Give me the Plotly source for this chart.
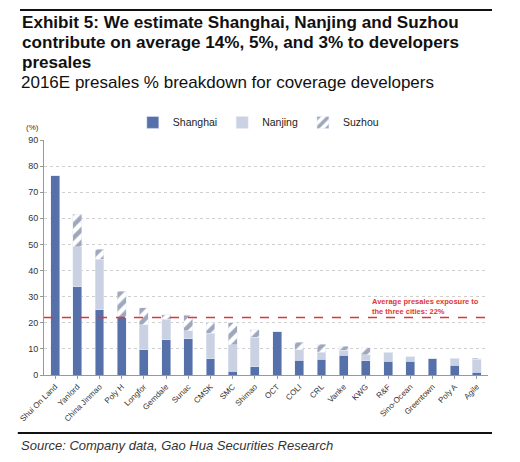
import plotly.graph_objects as go

# data
developers = ["Shui On Land", "Yanlord", "China Jinmao", "Poly H", "Longfor", "Gemdale",
              "Sunac", "CMSK", "SMC", "Shimao", "OCT", "COLI", "CRL", "Vanke", "KWG",
              "R&F", "Sino-Ocean", "Greentown", "Poly A", "Agile"]
shanghai = [76.3, 33.8, 24.9, 22.0, 9.6, 13.5, 13.8, 6.3, 1.5, 3.2,
            16.5, 5.7, 6.0, 7.5, 5.4, 5.3, 5.3, 6.4, 3.8, 1.0]
nanjing = [0, 15.4, 19.4, 0, 9.6, 7.9, 3.1, 9.7, 10.0, 11.2,
           0, 3.9, 2.8, 2.0, 2.3, 3.5, 1.6, 0, 2.6, 5.0]
suzhou = [0, 12.4, 3.8, 10.0, 6.5, 1.6, 5.9, 4.0, 8.5, 3.0,
          0, 3.0, 3.0, 1.5, 2.8, 0, 0, 0, 0, 0.4]
avg_exposure = 22
y_ticks = [0, 10, 20, 30, 40, 50, 60, 70, 80, 90]
title_lines = ["Exhibit 5: We estimate Shanghai, Nanjing and Suzhou",
               "contribute on average 14%, 5%, and 3% to developers",
               "presales"]

FONT = "Liberation Sans, Arial, sans-serif"

fig = go.Figure()
fig.add_bar(x=developers, y=shanghai, name="Shanghai", marker_color="#5670aa")
fig.add_bar(x=developers, y=nanjing, name="Nanjing", marker_color="#c9d1e3")
fig.add_bar(
    x=developers, y=suzhou, name="Suzhou",
    marker=dict(color="white",
                pattern=dict(shape="/", fgcolor="#3e4f78", bgcolor="white",
                             size=9, solidity=0.5))
)

# average line
fig.add_hline(y=avg_exposure, line_color="#e03535", line_dash="dash", line_width=1.6)

fig.update_layout(
    width=520,
    height=462,
    barmode="stack",
    bargap=0.6,
    margin=dict(l=44, r=32, t=140, b=87),
    paper_bgcolor="white",
    plot_bgcolor="white",
    font=dict(family=FONT, color="#333333", size=9),
    showlegend=True,
    legend=dict(orientation="h", x=0.2, y=1.075, xanchor="left", yanchor="middle",
                traceorder="normal",
                font=dict(size=10.5, color="#222222"), itemwidth=30,
                bgcolor="rgba(0,0,0,0)"),
)

# 축 설정
fig.update_yaxes(
    range=[0, 90],
    tickvals=y_ticks,
    showgrid=True,
    gridcolor="#cfcfcf",
    griddash="dot",
    showline=True,
    linecolor="#999999",
    ticks="outside",
    ticklen=3,
    tickcolor="#999999",
    tickfont=dict(size=9, color="#333333"),
    zeroline=False,
)
fig.update_xaxes(
    showline=True,
    linecolor="#999999",
    tickangle=-45,
    tickfont=dict(size=8, color="#333333"),
    ticks="outside",
    ticklen=3,
    tickcolor="#999999",
)

# title (one annotation per line), subtitle, notes
for line, ypos in zip(title_lines, [1.502, 1.413, 1.328]):
    fig.add_annotation(
        xref="paper", yref="paper", x=-0.054, y=ypos, xanchor="left", yanchor="middle",
        text="<b>" + line + "</b>", showarrow=False,
        font=dict(size=17.1, color="#111111", family=FONT),
    )
fig.add_annotation(
    xref="paper", yref="paper", x=-0.056, y=1.245, xanchor="left", yanchor="middle",
    text="2016E presales % breakdown for coverage developers",
    showarrow=False, font=dict(size=17, color="#111111", family=FONT),
)
fig.add_annotation(
    xref="paper", yref="paper", x=-0.045, y=1.055, xanchor="left", yanchor="middle",
    text="(%)", showarrow=False, font=dict(size=8, color="#333333"),
)
fig.add_annotation(
    xref="paper", yref="paper", x=0.735, y=0.29, xanchor="left", yanchor="middle",
    text="<b>Average presales exposure to<br>the three cities: 22%</b>",
    align="left", showarrow=False, font=dict(size=7.5, color="#e03535"),
)
fig.add_annotation(
    xref="paper", yref="paper", x=-0.056, y=-0.298, xanchor="left", yanchor="middle",
    text="<i>Source: Company data, Gao Hua Securities Research</i>",
    showarrow=False, font=dict(size=13, color="#333333", family=FONT),
)

# horizontal rules
fig.add_shape(type="line", xref="paper", yref="paper", x0=-0.054, x1=1.009,
              y0=1.553, y1=1.553, line=dict(color="#111111", width=2))
fig.add_shape(type="line", xref="paper", yref="paper", x0=-0.059, x1=1.009,
              y0=-0.247, y1=-0.247, line=dict(color="#111111", width=2))

# 페이지 여백 제거
fig.write_html("out.html", config={"displayModeBar": False},
               post_script="document.body.style.margin='0';")
